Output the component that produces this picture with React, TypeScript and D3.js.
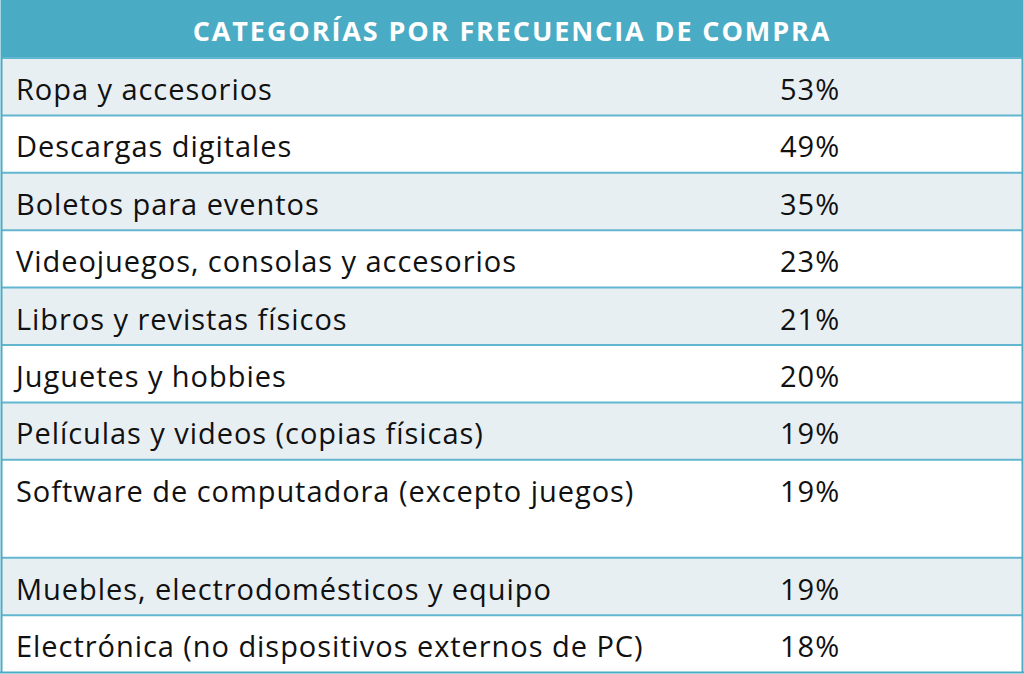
import React from "react";
import * as d3 from "d3";

const title = "CATEGORÍAS POR FRECUENCIA DE COMPRA";
const categories = [
  "Ropa y accesorios",
  "Descargas digitales",
  "Boletos para eventos",
  "Videojuegos, consolas y accesorios",
  "Libros y revistas físicos",
  "Juguetes y hobbies",
  "Películas y videos (copias físicas)",
  "Software de computadora (excepto juegos)",
  "Muebles, electrodomésticos y equipo",
  "Electrónica (no dispositivos externos de PC)",
];
const values = [53, 49, 35, 23, 21, 20, 19, 19, 19, 18];

const W = 1024;
const H = 674;
const headerH = 58;
const rowUnit = 57.4;
const tallRow = 7; // index of the row with extra blank space
const tallH = 98;
const FONT = "'Open Sans', 'Noto Sans', sans-serif";

export default function App() {
  const heights = categories.map((_, i) => (i === tallRow ? tallH : rowUnit));
  const tops: number[] = [];
  let acc = headerH;
  heights.forEach((h) => {
    tops.push(acc);
    acc += h;
  });
  const bottom = acc;
  const fmt = d3.format("d");

  return (
    <svg
      width={W}
      height={H}
      style={{ position: "absolute", left: 0, top: 0, display: "block" }}
    >
      <rect x={0} y={0} width={W} height={H} fill="#ffffff" />
      <rect x={1} y={0} width={W - 2} height={headerH} fill="#4aabc5" />
      <text
        x={512}
        y={41}
        textAnchor="middle"
        fill="#ffffff"
        fontFamily={FONT}
        fontWeight={700}
        fontSize={27}
        letterSpacing={1.9}
      >
        {title}
      </text>
      {categories.map((c, i) => (
        <g key={c}>
          <rect
            x={2}
            y={tops[i]}
            width={W - 4}
            height={heights[i]}
            fill={i % 2 === 0 ? "#e8eff3" : "#ffffff"}
          />
          <line
            x1={2}
            x2={W - 2}
            y1={tops[i]}
            y2={tops[i]}
            stroke="#62b6cf"
            strokeWidth={2}
          />
          <text
            x={16}
            y={tops[i] + 42}
            fill="#111111"
            fontFamily={FONT}
            fontSize={29}
            letterSpacing={0.95}
          >
            {c}
          </text>
          <text
            x={780}
            y={tops[i] + 42}
            fill="#111111"
            fontFamily={FONT}
            fontSize={29}
            letterSpacing={1}
          >
            {fmt(values[i]) + "%"}
          </text>
        </g>
      ))}
      <line x1={0} x2={W} y1={bottom} y2={bottom} stroke="#4aabc5" strokeWidth={2} />
      <line x1={1.5} x2={1.5} y1={0} y2={bottom} stroke="#4aabc5" strokeWidth={2} />
      <line x1={W - 1.5} x2={W - 1.5} y1={0} y2={bottom} stroke="#4aabc5" strokeWidth={2} />
    </svg>
  );
}
